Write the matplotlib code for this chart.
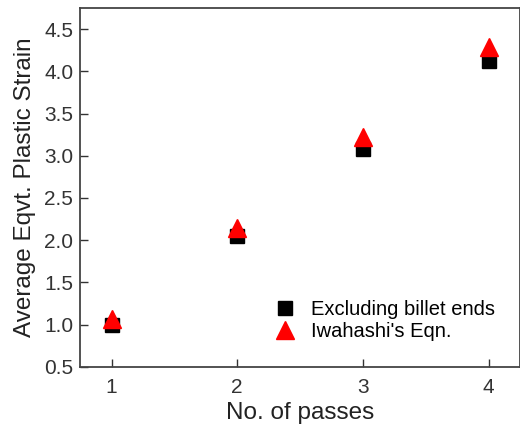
import matplotlib
matplotlib.use("Agg")
from matplotlib import pyplot as plt

plt.rcParams['font.family'] = ['Liberation Sans', 'DejaVu Sans']

# data
passes = [1, 2, 3, 4]
excl_ends = [1.00, 2.05, 3.08, 4.12]
iwahashi = [1.07, 2.15, 3.22, 4.29]

fig = plt.figure(figsize=(5.2, 4.26), dpi=100)
ax = fig.add_axes([0.154, 0.139, 0.846, 0.842])

ax.plot(passes, excl_ends, 's', color='black', markersize=9.5, label='Excluding billet ends', zorder=2)
ax.plot(passes, iwahashi, '^', color='red', markersize=13, label="Iwahashi's Eqn.", zorder=3)

ax.set_xlim(0.75, 4.25)
ax.set_ylim(0.5, 4.75)
ax.set_xticks(passes)
ax.set_yticks([0.5, 1.0, 1.5, 2.0, 2.5, 3.0, 3.5, 4.0, 4.5])
ax.set_yticklabels(['0.5', '1.0', '1.5', '2.0', '2.5', '3.0', '3.5', '4.0', '4.5'])
ax.tick_params(direction='in', length=6, width=1, labelsize=15, colors='#333333')
ax.tick_params(axis='x', pad=8)
ax.tick_params(axis='y', pad=5)
for s in ax.spines.values():
    s.set_linewidth(1.3)
    s.set_color('#444444')

ax.set_xlabel('No. of passes', fontsize=17.5, color='#222222', labelpad=4)
ax.set_ylabel('Average Eqvt. Plastic Strain', fontsize=17.5, color='#222222', labelpad=6)

ax.legend(loc='lower right', bbox_to_anchor=(0.985, 0.022), frameon=False, fontsize=14.5,
          handletextpad=0.5, labelspacing=0.15, handlelength=1.6)

fig.savefig('out.png', dpi=100)
